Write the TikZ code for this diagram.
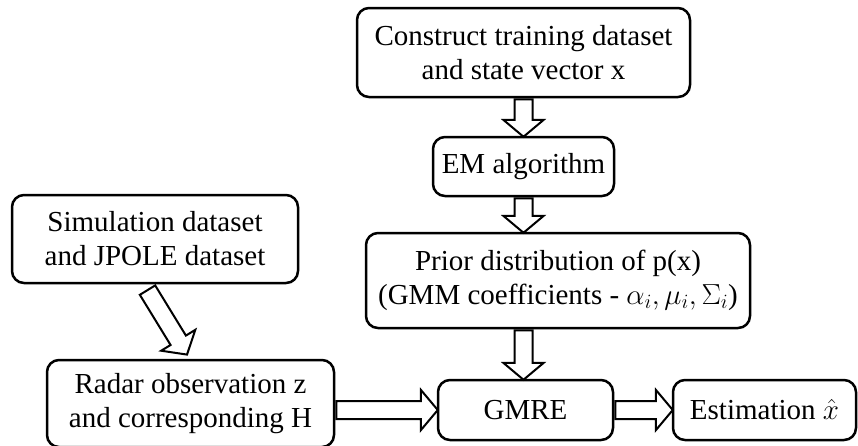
\RequirePackage{fix-cm}
\documentclass[tikz,border=0pt]{standalone}
\usepackage{amsmath,amssymb}
\usepackage{fontspec}
\setmainfont{Liberation Serif}
\usepackage{tikz}
\usetikzlibrary{shapes.arrows,calc}

\begin{document}
\begin{tikzpicture}[x=1pt,y=-1pt,
		box/.style={draw,line width=2.5pt,rounded corners=12pt,align=center,inner sep=0pt,
			font=\fontsize{29}{34}\selectfont},
		fat/.style={draw,line width=2pt,fill=white,single arrow,single arrow head extend=11pt,
			single arrow tip angle=100,inner xsep=0pt,inner ysep=8pt,minimum width=0pt,anchor=tail},
		hollow/.style={to path={let \p1=($(\tikztotarget)-(\tikztostart)$),\n1={veclen(\x1,\y1)},
			\n2={atan2(\y1,\x1)} in (\tikztostart) node[fat,rotate=\n2,minimum height=\n1] {}}}]

		\useasboundingbox (0,0) rectangle (858,445);

		\node[box,minimum width=333pt,minimum height=89pt] (cons) at (523.5,52.5) {Construct training dataset\\and state vector x};
		\node[box,minimum width=181pt,minimum height=59pt] (em) at (523.5,166.5) {EM algorithm};
		\node[box,minimum width=384pt,minimum height=95pt] (prior) at (558,280.5) {Prior distribution of p(x)\\(GMM coefficients - $\alpha_i,\mu_i,\Sigma_i$)};

		\node[box,minimum width=286pt,minimum height=88pt] (sim) at (155,239) {Simulation dataset\\and JPOLE dataset};
		\node[box,minimum width=287pt,minimum height=87pt] (radar) at (190.5,403.5) {Radar observation z\\and corresponding H};
		\node[box,minimum width=175pt,minimum height=60pt] (gmre) at (525.5,410) {GMRE};
		\node[box,minimum width=183pt,minimum height=60pt] (est) at (764.5,410) {Estimation $\hat{x}$};

		\path
		(cons.south) edge[hollow] (em.north)
		(em.south) edge[hollow] (em.south |- prior.north)
		(em.south |- prior.south) edge[hollow] (em.south |- gmre.north)
		([xshift=-8pt,yshift=-5pt]sim.south) edge[hollow] ([xshift=-4pt,yshift=5pt]radar.north)
		(radar.east |- gmre.west) edge[hollow] (gmre.west)
		(gmre.east) edge[hollow] (est.west);
\end{tikzpicture}
\end{document}
